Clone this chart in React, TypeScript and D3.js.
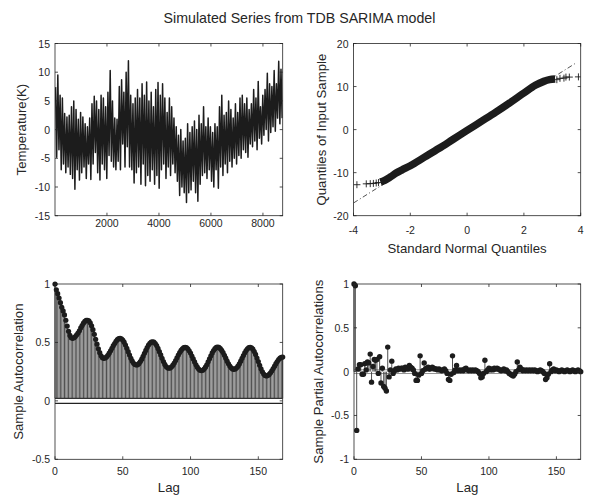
import React from 'react';
import * as d3 from 'd3';

// ---------- Data ----------
const TS_HOURS = 8760;
// envelope of simulated hourly series, read per ~88 h bin (high / low extremes)
const tsHigh = [
  7.4, 9.5, 6.0, 5.5, 2.8, 2.2, 2.5, 4.0, 5.0, 3.5,
  1.8, 3.0, 2.2, 1.0, 0.5, 2.0, 4.5, 5.8, 5.0, 3.5,
  6.0, 5.5, 4.0, 6.5, 10.3, 5.0, 2.0, 1.8, 7.5, 8.7,
  6.5, 10.0, 12.0, 6.0, 4.5, 5.5, 7.0, 5.5, 8.0, 6.0,
  8.3, 5.0, 6.5, 4.0, 7.0, 8.2, 6.0, 8.0, 5.5, 3.0,
  5.5, 4.0, 2.0, 0.5, -1.0, 0.0, -2.0, -1.5, 1.0, -0.5,
  0.5, 1.5, 0.0, 2.5, 1.0, 4.0, 0.5, 2.0, 0.5, -0.5,
  1.0, 0.5, 4.0, 6.0, 2.5, 3.0, 5.0, 3.5, 2.0, 4.5,
  3.0, 5.5, 6.0, 4.5, 5.5, 3.5, 4.5, 7.0, 5.5, 8.4,
  4.0, 6.0, 7.0, 9.8, 8.0, 7.5, 10.3, 8.0, 11.9, 10.5,
];
const tsLow = [
  -4.8, -3.5, -7.0, -6.0, -7.5, -6.5, -7.8, -8.5, -10.4, -7.0,
  -8.8, -7.5, -6.5, -8.5, -6.0, -8.7, -6.0, -4.0, -7.5, -8.8,
  -6.0, -7.0, -8.5, -4.5, -5.5, -6.5, -7.0, -5.5, -7.0, -2.5,
  -6.5, -3.0, -6.5, -7.0, -9.3, -7.5, -6.5, -9.5, -6.0, -9.8,
  -8.0, -9.0, -7.0, -9.5, -8.0, -10.2, -7.0, -6.0, -8.5, -6.5,
  -8.0, -6.0, -7.5, -9.0, -11.5, -10.0, -11.0, -12.7, -11.0, -10.5,
  -9.0, -11.0, -12.5, -9.5, -8.0, -7.5, -8.5, -7.0, -9.0, -10.0,
  -7.0, -10.2, -6.5, -8.0, -6.0, -7.5, -5.5, -6.5, -5.0, -6.0,
  -4.5, -5.0, -3.5, -4.0, -4.8, -2.5, -3.0, -2.0, -3.5, -1.5,
  -2.5, -1.0, 0.0, -2.0, -0.5, 0.5, -0.3, 2.0, 1.0, 2.0,
];
const tsXTicks = [2000, 4000, 6000, 8000];
const tsYTicks = [-15, -10, -5, 0, 5, 10, 15];

// QQ plot
const qqBandQ = [-3.05, -2.9, -2.7, -2.5, -2.3, -2.0, -1.5, -1.0, -0.5, 0, 0.5, 1.0, 1.5, 2.0, 2.4, 2.7, 2.9, 3.1];
const qqBandV = [-12.2, -11.8, -11.0, -10.1, -9.4, -8.4, -6.4, -4.4, -2.3, -0.2, 1.9, 4.0, 6.2, 8.5, 10.3, 11.2, 11.6, 11.75];
const qqTailQ = [-3.88, -3.55, -3.41, -3.3, -3.2, -3.12, 3.16, 3.27, 3.41, 3.48, 3.6, 3.92];
const qqTailV = [-12.8, -12.6, -12.55, -12.5, -12.4, -12.3, 11.6, 11.9, 11.95, 12.2, 12.2, 12.25];
const qqRefQ = [-4, 3.84];
const qqRefV = [-17.05, 15.5];
const qqXTicks = [-4, -2, 0, 2, 4];
const qqYTicks = [-20, -10, 0, 10, 20];

// ACF lags 0..168
const acfValues = [
  1, 0.95, 0.917, 0.88, 0.84, 0.8, 0.77, 0.735, 0.69, 0.64,
  0.595, 0.56, 0.54, 0.535, 0.54, 0.55, 0.565, 0.58, 0.6, 0.625,
  0.645, 0.665, 0.68, 0.69, 0.69, 0.685, 0.668, 0.642, 0.609, 0.569,
  0.527, 0.485, 0.445, 0.412, 0.386, 0.37, 0.364, 0.367, 0.376, 0.39,
  0.408, 0.428, 0.45, 0.472, 0.49, 0.51, 0.524, 0.532, 0.535, 0.531,
  0.52, 0.502, 0.478, 0.45, 0.421, 0.392, 0.364, 0.34, 0.322, 0.311,
  0.307, 0.31, 0.32, 0.336, 0.357, 0.381, 0.407, 0.432, 0.456, 0.477,
  0.493, 0.503, 0.506, 0.502, 0.491, 0.473, 0.449, 0.421, 0.393, 0.364,
  0.336, 0.312, 0.294, 0.283, 0.279, 0.282, 0.291, 0.305, 0.324, 0.345,
  0.369, 0.392, 0.413, 0.432, 0.446, 0.455, 0.458, 0.455, 0.445, 0.429,
  0.409, 0.384, 0.359, 0.333, 0.309, 0.288, 0.272, 0.262, 0.259, 0.262,
  0.272, 0.288, 0.309, 0.334, 0.36, 0.385, 0.41, 0.431, 0.447, 0.457,
  0.46, 0.457, 0.447, 0.432, 0.413, 0.39, 0.365, 0.34, 0.317, 0.298,
  0.283, 0.273, 0.27, 0.273, 0.283, 0.297, 0.316, 0.34, 0.364, 0.388,
  0.411, 0.43, 0.445, 0.455, 0.458, 0.454, 0.442, 0.422, 0.397, 0.367,
  0.336, 0.304, 0.274, 0.249, 0.229, 0.217, 0.213, 0.217, 0.226, 0.24,
  0.257, 0.277, 0.297, 0.318, 0.337, 0.353, 0.365, 0.372, 0.375,
];

// PACF lags 0..168
const pacfValues = [
  1, 0.98, -0.67, 0.03, 0.08, 0.08, -0.03, -0.03, 0.09, 0.02,
  0.11, 0.1, 0.2, -0.12, 0.06, 0.14, 0.13, 0.14, -0.02, 0.17,
  -0.13, 0.04, -0.17, -0.19, -0.22, 0.28, -0.06, 0.02, 0.12, -0.02,
  0.01, 0.03, 0.02, 0.04, 0.03, 0.04, 0.04, 0.02, 0.05, 0.04,
  0.03, 0.07, 0.05, 0.04, 0.02, -0.02, -0.1, -0.1, -0.04, 0.18,
  -0.02, 0.01, 0.1, 0.03, 0.04, 0.05, 0.03, 0.04, 0.05, 0.04,
  0.03, 0.03, 0.02, 0.03, 0.02, 0.01, 0.02, 0.03, 0.01, -0.02,
  -0.09, -0.1, -0.03, 0.18, -0.01, 0.02, 0.07, 0.01, 0.02, 0.01,
  0.02, 0.01, 0.03, 0.04, 0.02, 0.01, 0.02, 0.01, 0.02, 0.01,
  0.02, 0.01, 0.0, -0.02, -0.07, -0.06, -0.02, 0.13, 0.0, 0.02,
  0.04, 0.02, 0.03, 0.02, 0.04, 0.03, 0.04, 0.03, 0.02, 0.01,
  0.02, 0.03, 0.01, 0.02, 0.0, -0.02, -0.03, -0.04, -0.05, -0.03,
  0.0, 0.11, 0.02, 0.05, 0.03, 0.01, 0.02, 0.01, 0.02, 0.01,
  0.02, 0.01, 0.02, 0.01, 0.02, 0.01, 0.0, 0.01, 0.02, 0.01,
  0.0, -0.02, -0.09, -0.07, -0.03, 0.09, 0.0, 0.02, 0.03, 0.01,
  0.02, 0.01, 0.0, 0.01, 0.02, 0.01, 0.0, 0.01, 0.02, 0.01,
  0.0, 0.01, 0.02, 0.01, 0.0, 0.01, 0.02, 0.01, 0.0,
];
const confBound = 0.0214;
const lagXTicks = [0, 50, 100, 150];
const acfYTicks = [-0.5, 0, 0.5, 1];
const pacfYTicks = [-1, -0.5, 0, 0.5, 1];

// ---------- Styling ----------
const FONT = "'Liberation Sans', Arial, Helvetica, sans-serif";
const TXT = '#262626';
const AX = '#262626';
const TICK_FS = 10.5;
const LAB_FS = 13.2;
const TITLE_FS = 14.2;

type Box = { x0: number; x1: number; y0: number; y1: number };

function Frame({ box, xs, ys, xTicks, yTicks, xLabY }: any) {
  const tl = 3;
  return (
    <g>
      <rect x={box.x0} y={box.y0} width={box.x1 - box.x0} height={box.y1 - box.y0} fill="none" stroke={AX} strokeWidth={0.8} />
      {xTicks.map((t: number) => (
        <g key={'x' + t}>
          <line x1={xs(t)} x2={xs(t)} y1={box.y1} y2={box.y1 - tl} stroke={AX} strokeWidth={0.8} />
          <line x1={xs(t)} x2={xs(t)} y1={box.y0} y2={box.y0 + tl} stroke={AX} strokeWidth={0.8} />
          <text x={xs(t)} y={xLabY} textAnchor="middle" dominantBaseline="central" fontSize={TICK_FS} fill={TXT} fontFamily={FONT}>{String(t)}</text>
        </g>
      ))}
      {yTicks.map((t: number) => (
        <g key={'y' + t}>
          <line x1={box.x0} x2={box.x0 + tl} y1={ys(t)} y2={ys(t)} stroke={AX} strokeWidth={0.8} />
          <line x1={box.x1} x2={box.x1 - tl} y1={ys(t)} y2={ys(t)} stroke={AX} strokeWidth={0.8} />
          <text x={box.x0 - 5} y={ys(t)} textAnchor="end" dominantBaseline="central" fontSize={TICK_FS} fill={TXT} fontFamily={FONT}>{String(t)}</text>
        </g>
      ))}
    </g>
  );
}

export default function App() {
  const bTL: Box = { x0: 55, x1: 282.7, y0: 43.5, y1: 215.7 };
  const bTR: Box = { x0: 353.5, x1: 580.7, y0: 43.5, y1: 215.7 };
  const bBL: Box = { x0: 55, x1: 282.7, y0: 284, y1: 459.3 };
  const bBR: Box = { x0: 354, x1: 580.7, y0: 284, y1: 459.3 };

  // --- time series: zigzag between each bin's extremes ---
  const xTS = d3.scaleLinear().domain([1, TS_HOURS]).range([bTL.x0, bTL.x1]);
  const yTS = d3.scaleLinear().domain([-15, 15]).range([bTL.y1, bTL.y0]);
  const binW = TS_HOURS / tsHigh.length;
  const tsPts: [number, number][] = [];
  tsHigh.forEach((h, i) => {
    const start = i * binW;
    tsPts.push([start + binW * 0.25, h]);
    tsPts.push([start + binW * 0.75, tsLow[i]]);
  });
  const tsLine = d3.line<[number, number]>().x(d => xTS(d[0])).y(d => yTS(d[1]));

  // --- QQ ---
  const xQQ = d3.scaleLinear().domain([-4, 4]).range([bTR.x0, bTR.x1]);
  const yQQ = d3.scaleLinear().domain([-20, 20]).range([bTR.y1, bTR.y0]);
  const bandPts = qqBandQ.map((q, i) => [q, qqBandV[i]] as [number, number]);
  const bandLine = d3.line<[number, number]>().x(d => xQQ(d[0])).y(d => yQQ(d[1])).curve(d3.curveMonotoneX);

  // --- ACF / PACF ---
  const xL = d3.scaleLinear().domain([0, 168]).range([bBL.x0, bBL.x1]);
  const yA = d3.scaleLinear().domain([-0.5, 1]).range([bBL.y1, bBL.y0]);
  const xL2 = d3.scaleLinear().domain([0, 168]).range([bBR.x0, bBR.x1]);
  const yP = d3.scaleLinear().domain([-1, 1]).range([bBR.y1, bBR.y0]);

  return (
    <svg width={590} height={496} style={{ position: 'absolute', left: 0, top: 0, background: '#fff' }}>
      <defs>
        <clipPath id="cTL"><rect x={bTL.x0} y={bTL.y0} width={bTL.x1 - bTL.x0} height={bTL.y1 - bTL.y0} /></clipPath>
        <clipPath id="cTR"><rect x={bTR.x0} y={bTR.y0} width={bTR.x1 - bTR.x0} height={bTR.y1 - bTR.y0} /></clipPath>
      </defs>
      <rect x={0} y={0} width={590} height={496} fill="#fff" />
      <text x={299.5} y={18} textAnchor="middle" dominantBaseline="central" fontSize={TITLE_FS} fill={TXT} fontFamily={FONT}>Simulated Series from TDB SARIMA model</text>

      {/* Top-left: time series */}
      <g clipPath="url(#cTL)">
        <path d={tsLine(tsPts) || ''} fill="none" stroke="#1c1c1c" strokeWidth={1.5} strokeLinejoin="round" />
      </g>
      <Frame box={bTL} xs={xTS} ys={yTS} xTicks={tsXTicks} yTicks={tsYTicks} xLabY={222.5} />
      <text transform={`translate(21.5,${(bTL.y0 + bTL.y1) / 2}) rotate(-90)`} textAnchor="middle" dominantBaseline="central" fontSize={LAB_FS} fill={TXT} fontFamily={FONT}>Temperature(K)</text>

      {/* Top-right: QQ plot */}
      <g clipPath="url(#cTR)">
        <line x1={xQQ(qqRefQ[0])} y1={yQQ(qqRefV[0])} x2={xQQ(qqRefQ[1])} y2={yQQ(qqRefV[1])} stroke="#262626" strokeWidth={0.8} strokeDasharray="5,2.5,1,2.5" />
        <path d={bandLine(bandPts) || ''} fill="none" stroke="#1c1c1c" strokeWidth={7.5} />
        {qqTailQ.map((q, i) => (
          <g key={i} stroke="#1c1c1c" strokeWidth={0.9}>
            <line x1={xQQ(q) - 3.5} x2={xQQ(q) + 3.5} y1={yQQ(qqTailV[i])} y2={yQQ(qqTailV[i])} />
            <line x1={xQQ(q)} x2={xQQ(q)} y1={yQQ(qqTailV[i]) - 3.5} y2={yQQ(qqTailV[i]) + 3.5} />
          </g>
        ))}
      </g>
      <Frame box={bTR} xs={xQQ} ys={yQQ} xTicks={qqXTicks} yTicks={qqYTicks} xLabY={230} />
      <text x={(bTR.x0 + bTR.x1) / 2} y={248} textAnchor="middle" dominantBaseline="central" fontSize={LAB_FS} fill={TXT} fontFamily={FONT}>Standard Normal Quantiles</text>
      <text transform={`translate(321.5,${(bTR.y0 + bTR.y1) / 2}) rotate(-90)`} textAnchor="middle" dominantBaseline="central" fontSize={LAB_FS} fill={TXT} fontFamily={FONT}>Quantiles of Input Sample</text>

      {/* Bottom-left: ACF */}
      <g>
        {acfValues.map((v, i) => (
          <line key={i} x1={xL(i)} x2={xL(i)} y1={yA(confBound)} y2={yA(v)} stroke="#3c3c3c" strokeWidth={0.9} />
        ))}
        <line x1={bBL.x0} x2={bBL.x1} y1={yA(confBound)} y2={yA(confBound)} stroke="#333" strokeWidth={1.3} />
        <line x1={bBL.x0} x2={bBL.x1} y1={yA(-confBound)} y2={yA(-confBound)} stroke="#222" strokeWidth={1.1} />
        {acfValues.map((v, i) => (
          <circle key={'m' + i} cx={xL(i)} cy={yA(v)} r={2.6} fill="#1c1c1c" />
        ))}
      </g>
      <Frame box={bBL} xs={xL} ys={yA} xTicks={lagXTicks} yTicks={acfYTicks} xLabY={471} />
      <text x={(bBL.x0 + bBL.x1) / 2} y={487} textAnchor="middle" dominantBaseline="central" fontSize={LAB_FS} fill={TXT} fontFamily={FONT}>Lag</text>
      <text transform={`translate(18,${(bBL.y0 + bBL.y1) / 2}) rotate(-90)`} textAnchor="middle" dominantBaseline="central" fontSize={LAB_FS} fill={TXT} fontFamily={FONT}>Sample Autocorrelation</text>

      {/* Bottom-right: PACF */}
      <g>
        <line x1={bBR.x0} x2={bBR.x1} y1={yP(confBound)} y2={yP(confBound)} stroke="#777" strokeWidth={0.8} />
        <line x1={bBR.x0} x2={bBR.x1} y1={yP(-confBound)} y2={yP(-confBound)} stroke="#777" strokeWidth={0.8} />
        {pacfValues.map((v, i) => (
          <line key={i} x1={xL2(i)} x2={xL2(i)} y1={yP(0)} y2={yP(v)} stroke="#3c3c3c" strokeWidth={0.9} />
        ))}
        {pacfValues.map((v, i) => (
          <circle key={'m' + i} cx={xL2(i)} cy={yP(v)} r={2.7} fill="#1c1c1c" />
        ))}
      </g>
      <Frame box={bBR} xs={xL2} ys={yP} xTicks={lagXTicks} yTicks={pacfYTicks} xLabY={471} />
      <text x={(bBR.x0 + bBR.x1) / 2} y={487} textAnchor="middle" dominantBaseline="central" fontSize={LAB_FS} fill={TXT} fontFamily={FONT}>Lag</text>
      <text transform={`translate(318,${(bBR.y0 + bBR.y1) / 2}) rotate(-90)`} textAnchor="middle" dominantBaseline="central" fontSize={LAB_FS} fill={TXT} fontFamily={FONT}>Sample Partial Autocorrelations</text>
    </svg>
  );
}
